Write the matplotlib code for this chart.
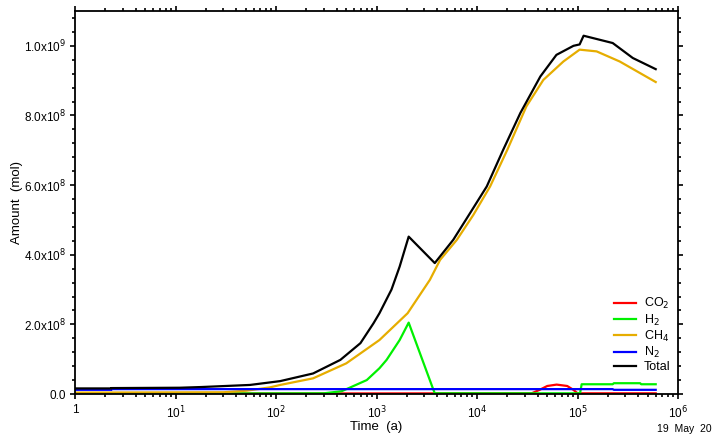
import numpy as np
import matplotlib
matplotlib.use("Agg")
import matplotlib.pyplot as plt
from matplotlib.ticker import MultipleLocator, FuncFormatter, FixedLocator, NullFormatter

plt.rcParams['font.family'] = ['Liberation Sans', 'DejaVu Sans']

# data (time in years, amount in mol)
t_total = [1, 2.3, 2.3, 11, 18, 55, 110, 234, 437, 692, 933, 1070, 1410, 1700, 2090, 3800, 5810,
           8510, 1.25e4, 1.82e4, 2.7e4, 4.27e4, 6.17e4, 9.12e4, 1.05e5, 1.15e5, 2.24e5, 3.55e5, 6.0e5]
v_total = [1.6e7, 1.6e7, 1.7e7, 1.8e7, 2.0e7, 2.6e7, 3.7e7, 5.9e7, 9.8e7, 1.46e8, 2.03e8, 2.32e8, 3.0e8, 3.66e8,
           4.52e8, 3.76e8, 4.43e8, 5.19e8, 5.96e8, 7.01e8, 8.07e8, 9.12e8, 9.74e8, 1.0e9, 1.004e9, 1.029e9,
           1.008e9, 9.65e8, 9.33e8]

t_ch4 = [1, 30, 51, 87, 110, 234, 500, 1070, 2040, 3400, 4290, 6310, 9180, 1.35e4, 2.0e4, 3.1e4, 4.57e4,
         7.24e4, 1.05e5, 1.55e5, 2.63e5, 6.0e5]
v_ch4 = [4e6, 5e6, 9.5e6, 1.9e7, 2.6e7, 4.5e7, 8.8e7, 1.55e8, 2.32e8, 3.28e8, 3.85e8, 4.43e8, 5.14e8, 5.96e8,
         7.01e8, 8.26e8, 9.02e8, 9.55e8, 9.89e8, 9.84e8, 9.55e8, 8.96e8]

t_h2 = [1, 300, 450, 550, 800, 1070, 1260, 1700, 2090, 3630, 3800, 1.06e5, 1.1e5, 2.24e5, 2.3e5, 4.2e5,
        4.3e5, 6.0e5]
v_h2 = [1e6, 2e6, 8e6, 1.9e7, 4.0e7, 7.4e7, 9.8e7, 1.55e8, 2.05e8, 1.7e7, 2e6, 2e6, 2.8e7, 2.8e7, 3.1e7,
        3.1e7, 2.8e7, 2.8e7]

t_n2 = [1, 2.3, 2.3, 2.24e5, 2.3e5, 6.0e5]
v_n2 = [1.2e7, 1.2e7, 1.4e7, 1.4e7, 1.2e7, 1.2e7]

t_co2 = [1, 3.5e4, 4.2e4, 5.0e4, 6.2e4, 7.9e4, 9.1e4, 1.0e5, 6.0e5]
v_co2 = [1e6, 2e6, 1.2e7, 2.3e7, 2.7e7, 2.3e7, 1.2e7, 2e6, 2e6]

fig = plt.figure(figsize=(7.25, 4.36), dpi=100)
ax = fig.add_axes([75 / 725, 42 / 436, 603 / 725, 383 / 436])

ax.plot(t_co2, v_co2, color='#ff0000', lw=1.6, label='CO$_2$')
ax.plot(t_h2, v_h2, color='#00f000', lw=1.6, label='H$_2$')
ax.plot(t_ch4, v_ch4, color='#e6ad00', lw=1.6, label='CH$_4$')
ax.plot(t_n2, v_n2, color='#0000ff', lw=1.6, label='N$_2$')
ax.plot(t_total, v_total, color='black', lw=1.6, label='Total')

ax.set_xscale('log')
ax.set_xlim(1, 1e6)
ax.set_ylim(0, 1.1e9)

ax.yaxis.set_major_locator(FixedLocator(np.arange(0, 1.05e9, 2e8)))
ax.yaxis.set_minor_locator(MultipleLocator(4e7))


def yfmt(v, pos):
    if v <= 0:
        return '0.0'
    e = int(np.floor(np.log10(v)))
    return '%.1fx10$^{%d}$' % (v / 10 ** e, e)


def xfmt(v, pos):
    e = int(round(np.log10(v)))
    if e == 0:
        return '1'
    return '10$^{%d}$' % e


decades = 10.0 ** np.arange(0, 7)
ax.yaxis.set_major_formatter(FuncFormatter(yfmt))
ax.xaxis.set_major_locator(FixedLocator(decades))
ax.xaxis.set_minor_locator(FixedLocator([d * s for d in decades[:-1] for s in range(2, 10)]))
ax.xaxis.set_major_formatter(FuncFormatter(xfmt))
ax.xaxis.set_minor_formatter(NullFormatter())

ax.tick_params(which='both', direction='out', top=True, right=True, width=1.2, labelsize=8.5)
ax.tick_params(which='major', length=3.5)
ax.tick_params(which='minor', length=2.2)
ax.tick_params(axis='x', pad=4)
ax.tick_params(axis='y', pad=3)
for s in ax.spines.values():
    s.set_linewidth(1.3)

ax.set_xlabel('Time  (a)', fontsize=9.5, labelpad=0)
ax.set_ylabel('Amount  (mol)', fontsize=9.5, labelpad=1)

ax.legend(loc='lower right', bbox_to_anchor=(1.0, 0.034), frameon=False, fontsize=9,
          handlelength=1.8, handletextpad=0.6, labelspacing=0.1, borderaxespad=0.2)

fig.text(657 / 725, 4 / 436, '19  May  20', fontsize=7.5)

fig.savefig('out.png', dpi=100)
